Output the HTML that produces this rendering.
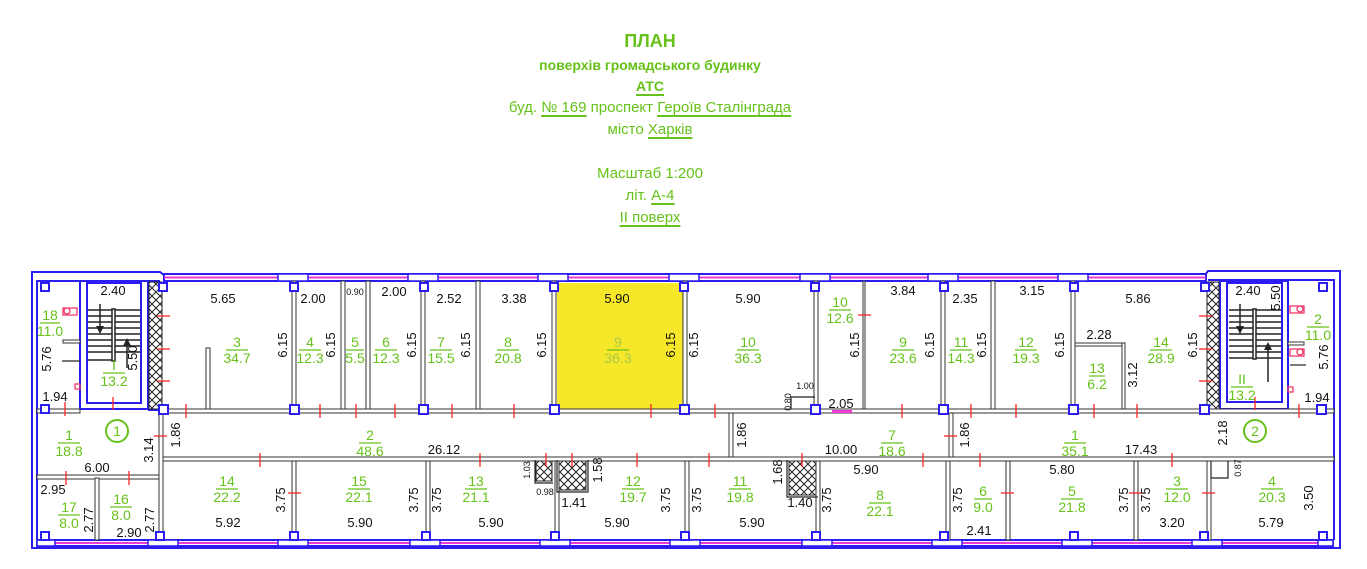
<!DOCTYPE html>
<html><head><meta charset="utf-8"><style>
body{margin:0;background:#fff;width:1367px;height:569px;overflow:hidden;position:relative;font-family:"Liberation Sans",sans-serif}
.h{position:absolute;left:0;width:1300px;text-align:center;color:#66c21a;white-space:nowrap}
.u{text-decoration:underline;text-decoration-thickness:2px;text-underline-offset:3px}
svg{position:absolute;left:0;top:0}
svg text{font-family:"Liberation Sans",sans-serif}
.d{font-size:13px;fill:#111;text-anchor:middle}
.s{font-size:9px;fill:#111;text-anchor:middle}
.g{font-size:14px;fill:#66c21a;text-anchor:middle}
</style></head><body>
<div class="h" style="top:31px;font-size:18px;font-weight:bold">ПЛАН</div>
<div class="h" style="top:57px;font-size:14px;font-weight:bold">поверхів громадського будинку</div>
<div class="h" style="top:78px;font-size:14px;font-weight:bold"><span class="u">АТС</span></div>
<div class="h" style="top:99px;font-size:15px">буд. <span class="u">№ 169</span> проспект <span class="u">Героїв Сталінграда</span></div>
<div class="h" style="top:121px;font-size:15px">місто <span class="u">Харків</span></div>
<div class="h" style="top:165px;font-size:15px">Масштаб 1:200</div>
<div class="h" style="top:187px;font-size:15px">літ. <span class="u">А-4</span></div>
<div class="h" style="top:209px;font-size:15px"><span class="u">II поверх</span></div>

<svg width="1367" height="569" viewBox="0 0 1367 569">
<defs>
<pattern id="hx" width="8" height="8" patternUnits="userSpaceOnUse">
<path d="M0 0L8 8M8 0L0 8" stroke="#222" stroke-width="1"/>
</pattern>
</defs>
<rect x="557" y="283" width="126" height="127" fill="#f6e829"/>
<path d="M32 272 L160 272 L164 275 L1205 275 L1208 271 L1340 271 L1340 548 L32 548 Z" fill="none" stroke="#2b1cf0" stroke-width="2"/>
<rect x="164" y="274" width="1042" height="7" fill="#fff" stroke="#2b1cf0" stroke-width="2"/>
<line x1="164" y1="277.5" x2="1206" y2="277.5" stroke="#f03ad8" stroke-width="2"/>
<rect x="37" y="540" width="1296" height="6" fill="#fff" stroke="#2b1cf0" stroke-width="2"/>
<line x1="37" y1="543" x2="1333" y2="543" stroke="#f03ad8" stroke-width="2"/>
<g fill="#fff" stroke="#2b1cf0" stroke-width="1.5">
<rect x="278" y="274" width="30" height="7"/><rect x="408" y="274" width="30" height="7"/><rect x="538" y="274" width="30" height="7"/><rect x="669" y="274" width="30" height="7"/><rect x="800" y="274" width="30" height="7"/><rect x="928" y="274" width="30" height="7"/><rect x="1058" y="274" width="30" height="7"/>
<rect x="37" y="540" width="18" height="6"/><rect x="148" y="540" width="30" height="6"/><rect x="278" y="540" width="30" height="6"/><rect x="410" y="540" width="30" height="6"/><rect x="540" y="540" width="30" height="6"/><rect x="670" y="540" width="30" height="6"/><rect x="802" y="540" width="30" height="6"/><rect x="932" y="540" width="30" height="6"/><rect x="1062" y="540" width="30" height="6"/><rect x="1192" y="540" width="30" height="6"/><rect x="1318" y="540" width="15" height="6"/>
</g>
<g fill="none" stroke="#2b1cf0" stroke-width="2">
<path d="M37 540 L37 281 L160 281"/>
<path d="M1208 280 L1334 280 L1334 540"/>
<rect x="80" y="281" width="68" height="128"/>
<rect x="87" y="283" width="54" height="120"/>
<rect x="1220" y="281" width="68" height="128"/>
<rect x="1227" y="283" width="55" height="119"/>
<line x1="148" y1="410" x2="163" y2="410"/>
</g>
<g stroke="#222" stroke-width="1.5">
<line x1="88" y1="310" x2="140" y2="310"/><line x1="88" y1="316" x2="140" y2="316"/><line x1="88" y1="322" x2="140" y2="322"/><line x1="88" y1="328" x2="140" y2="328"/><line x1="88" y1="334" x2="140" y2="334"/><line x1="88" y1="340" x2="140" y2="340"/><line x1="88" y1="346" x2="140" y2="346"/><line x1="88" y1="352" x2="140" y2="352"/><line x1="88" y1="360" x2="112" y2="360"/>
<rect x="112" y="309" width="3" height="52" fill="#fff"/>
<line x1="100" y1="304" x2="100" y2="328"/><line x1="127" y1="344" x2="127" y2="368"/>
<line x1="1229" y1="310" x2="1281" y2="310"/><line x1="1229" y1="316" x2="1281" y2="316"/><line x1="1229" y1="322" x2="1281" y2="322"/><line x1="1229" y1="328" x2="1281" y2="328"/><line x1="1229" y1="334" x2="1281" y2="334"/><line x1="1229" y1="340" x2="1281" y2="340"/><line x1="1229" y1="346" x2="1281" y2="346"/><line x1="1229" y1="352" x2="1281" y2="352"/><line x1="1229" y1="358" x2="1281" y2="358"/>
<rect x="1253" y="309" width="3" height="50" fill="#fff"/>
<line x1="1240" y1="304" x2="1240" y2="328"/><line x1="1268" y1="348" x2="1268" y2="382"/>
</g>
<g fill="#222"><path d="M96 326 L100 334 L104 326Z"/><path d="M123 346 L127 338 L131 346Z"/><path d="M1236 326 L1240 334 L1244 326Z"/><path d="M1264 350 L1268 342 L1272 350Z"/></g>
<g fill="url(#hx)" stroke="#222" stroke-width="1">
<rect x="149" y="282" width="13" height="127"/>
<rect x="1207" y="282" width="12" height="127"/>
<rect x="536" y="459" width="16" height="22"/>
<rect x="559" y="459" width="27" height="31"/>
<rect x="789" y="459" width="27" height="36"/>
</g>
<g fill="#fff" stroke="#333" stroke-width="1">
<rect x="160" y="409" width="1174" height="4"/>
<rect x="37" y="409" width="43" height="4"/>
<rect x="160" y="457" width="1174" height="4"/>
<rect x="37" y="475" width="123" height="4"/>
<rect x="159" y="409" width="4" height="131"/>
<rect x="95" y="478" width="4" height="62"/>
<rect x="292" y="281" width="4" height="128"/>
<rect x="341" y="281" width="4" height="128"/>
<rect x="366" y="281" width="4" height="128"/>
<rect x="421" y="281" width="4" height="128"/>
<rect x="476" y="281" width="4" height="128"/>
<rect x="552" y="281" width="4" height="128"/>
<rect x="683" y="281" width="4" height="128"/>
<rect x="814" y="281" width="4" height="128"/>
<rect x="863" y="281" width="2" height="128"/>
<rect x="941" y="281" width="4" height="128"/>
<rect x="991" y="281" width="4" height="128"/>
<rect x="1071" y="281" width="4" height="128"/>
<rect x="206" y="348" width="4" height="61"/>
<rect x="729" y="413" width="4" height="44"/>
<rect x="949" y="413" width="4" height="44"/>
<rect x="292" y="461" width="4" height="79"/>
<rect x="426" y="461" width="4" height="79"/>
<rect x="555" y="461" width="4" height="79"/>
<rect x="685" y="461" width="4" height="79"/>
<rect x="816" y="461" width="4" height="79"/>
<rect x="946" y="461" width="4" height="79"/>
<rect x="1006" y="461" width="4" height="79"/>
<rect x="1134" y="461" width="4" height="79"/>
<rect x="1207" y="461" width="4" height="79"/>
<rect x="1075" y="343" width="50" height="3"/>
<rect x="1122" y="343" width="3" height="66"/>
<rect x="63" y="340" width="17" height="3"/>
<rect x="1288" y="342" width="16" height="3"/>
</g>
<g fill="none" stroke="#222" stroke-width="1.2">
<path d="M791 409 V397 H815"/><path d="M1211 461 V478 H1228 V461"/><path d="M535 460 V483 H553"/><path d="M557 460 V492 H588 V460"/><path d="M787 460 V497 H818"/>
<line x1="62" y1="361" x2="80" y2="361"/><line x1="1290" y1="365" x2="1306" y2="365"/>
</g>
<rect x="832" y="410" width="20" height="3" fill="#f03ad8"/>
<g fill="#fff" stroke="#2b1cf0" stroke-width="2">
<rect x="41" y="283" width="8" height="8"/><rect x="41" y="405" width="8" height="8"/><rect x="41" y="532" width="8" height="8"/>
<rect x="159" y="283" width="8" height="8"/><rect x="159" y="405" width="9" height="9"/><rect x="156" y="532" width="8" height="8"/>
<rect x="290" y="283" width="8" height="8"/><rect x="290" y="405" width="9" height="9"/><rect x="290" y="532" width="8" height="8"/>
<rect x="420" y="283" width="8" height="8"/><rect x="419" y="405" width="9" height="9"/><rect x="422" y="532" width="8" height="8"/>
<rect x="550" y="283" width="8" height="8"/><rect x="550" y="405" width="9" height="9"/><rect x="551" y="532" width="8" height="8"/>
<rect x="680" y="283" width="8" height="8"/><rect x="680" y="405" width="9" height="9"/><rect x="681" y="532" width="8" height="8"/>
<rect x="811" y="283" width="8" height="8"/><rect x="811" y="405" width="9" height="9"/><rect x="812" y="532" width="8" height="8"/>
<rect x="940" y="283" width="8" height="8"/><rect x="939" y="405" width="9" height="9"/><rect x="940" y="532" width="8" height="8"/>
<rect x="1070" y="283" width="8" height="8"/><rect x="1069" y="405" width="9" height="9"/><rect x="1070" y="532" width="8" height="8"/>
<rect x="1201" y="283" width="8" height="8"/><rect x="1200" y="405" width="9" height="9"/><rect x="1200" y="532" width="8" height="8"/>
<rect x="1319" y="283" width="8" height="8"/><rect x="1317" y="405" width="9" height="9"/><rect x="1319" y="532" width="8" height="8"/>
</g>
<g stroke="#f22" stroke-width="1.3">
<line x1="65" y1="402" x2="65" y2="416"/><line x1="113" y1="397" x2="113" y2="410"/>
<line x1="157" y1="316" x2="170" y2="316"/><line x1="157" y1="349" x2="170" y2="349"/><line x1="157" y1="381" x2="170" y2="381"/>
<line x1="186" y1="404" x2="186" y2="418"/><line x1="320" y1="404" x2="320" y2="418"/><line x1="356" y1="404" x2="356" y2="418"/><line x1="395" y1="404" x2="395" y2="418"/><line x1="452" y1="404" x2="452" y2="418"/><line x1="514" y1="404" x2="514" y2="418"/><line x1="651" y1="404" x2="651" y2="418"/><line x1="715" y1="404" x2="715" y2="418"/><line x1="902" y1="404" x2="902" y2="418"/><line x1="971" y1="404" x2="971" y2="418"/><line x1="1016" y1="404" x2="1016" y2="418"/><line x1="1094" y1="404" x2="1094" y2="418"/><line x1="1137" y1="404" x2="1137" y2="418"/><line x1="1299" y1="404" x2="1299" y2="418"/><line x1="1255" y1="397" x2="1255" y2="410"/>
<line x1="1199" y1="316" x2="1212" y2="316"/><line x1="1199" y1="349" x2="1212" y2="349"/><line x1="1199" y1="381" x2="1212" y2="381"/>
<line x1="858" y1="315" x2="871" y2="315"/>
<line x1="154" y1="436" x2="167" y2="436"/><line x1="944" y1="436" x2="957" y2="436"/>
<line x1="66" y1="471" x2="66" y2="485"/><line x1="129" y1="471" x2="129" y2="485"/>
<line x1="260" y1="453" x2="260" y2="467"/><line x1="480" y1="453" x2="480" y2="467"/><line x1="546" y1="453" x2="546" y2="467"/><line x1="572" y1="453" x2="572" y2="467"/><line x1="637" y1="453" x2="637" y2="467"/><line x1="709" y1="453" x2="709" y2="467"/><line x1="802" y1="453" x2="802" y2="467"/><line x1="923" y1="453" x2="923" y2="467"/><line x1="980" y1="453" x2="980" y2="467"/><line x1="1172" y1="453" x2="1172" y2="467"/>
<line x1="288" y1="493" x2="301" y2="493"/><line x1="1001" y1="493" x2="1014" y2="493"/><line x1="1129" y1="493" x2="1142" y2="493"/><line x1="1202" y1="493" x2="1215" y2="493"/>
</g>
<g fill="none" stroke="#f03a6a" stroke-width="1.3">
<rect x="63" y="308" width="14" height="7"/><circle cx="67" cy="311" r="3"/><rect x="75" y="384" width="5" height="5"/>
<rect x="1290" y="306" width="14" height="7"/><circle cx="1300" cy="309" r="3"/><rect x="1290" y="349" width="14" height="7"/><circle cx="1300" cy="352" r="3"/><rect x="1288" y="387" width="5" height="5"/>
</g>
<circle cx="117" cy="431" r="11" fill="none" stroke="#66c21a" stroke-width="2"/>
<text x="117" y="436" class="g" font-size="15">1</text>
<circle cx="1255" cy="431" r="11" fill="none" stroke="#66c21a" stroke-width="2"/>
<text x="1255" y="436" class="g" font-size="15">2</text>
<g class="g" stroke="#66c21a" stroke-width="1.2">
<line x1="40" y1="323" x2="60" y2="323"/><line x1="103" y1="373" x2="125" y2="373"/><line x1="226" y1="350" x2="248" y2="350"/><line x1="299" y1="350" x2="321" y2="350"/><line x1="346" y1="350" x2="364" y2="350"/><line x1="375" y1="350" x2="397" y2="350"/><line x1="430" y1="350" x2="452" y2="350"/><line x1="497" y1="350" x2="519" y2="350"/><line x1="607" y1="350" x2="629" y2="350"/><line x1="737" y1="350" x2="759" y2="350"/><line x1="829" y1="310" x2="851" y2="310"/><line x1="892" y1="350" x2="914" y2="350"/><line x1="950" y1="350" x2="972" y2="350"/><line x1="1015" y1="350" x2="1037" y2="350"/><line x1="1089" y1="376" x2="1105" y2="376"/><line x1="1150" y1="350" x2="1172" y2="350"/><line x1="1231" y1="387" x2="1253" y2="387"/><line x1="1307" y1="327" x2="1329" y2="327"/>
<line x1="58" y1="443" x2="80" y2="443"/><line x1="359" y1="443" x2="381" y2="443"/><line x1="881" y1="443" x2="903" y2="443"/><line x1="1064" y1="443" x2="1086" y2="443"/>
<line x1="58" y1="515" x2="80" y2="515"/><line x1="110" y1="507" x2="132" y2="507"/><line x1="216" y1="489" x2="238" y2="489"/><line x1="348" y1="489" x2="370" y2="489"/><line x1="465" y1="489" x2="487" y2="489"/><line x1="622" y1="489" x2="644" y2="489"/><line x1="729" y1="489" x2="751" y2="489"/><line x1="869" y1="503" x2="891" y2="503"/><line x1="974" y1="499" x2="992" y2="499"/><line x1="1061" y1="499" x2="1083" y2="499"/><line x1="1166" y1="489" x2="1188" y2="489"/><line x1="1261" y1="489" x2="1283" y2="489"/>
</g>
<g class="g">
<text x="50" y="320">18</text><text x="50" y="336">11.0</text>
<text x="114" y="370">I</text><text x="114" y="386">13.2</text>
<text x="237" y="347">3</text><text x="237" y="363">34.7</text>
<text x="310" y="347">4</text><text x="310" y="363">12.3</text>
<text x="355" y="347">5</text><text x="355" y="363">5.5</text>
<text x="386" y="347">6</text><text x="386" y="363">12.3</text>
<text x="441" y="347">7</text><text x="441" y="363">15.5</text>
<text x="508" y="347">8</text><text x="508" y="363">20.8</text>
<text x="618" y="347" style="fill:#a8c84a">9</text><text x="618" y="363" style="fill:#a8c84a">36.3</text>
<text x="748" y="347">10</text><text x="748" y="363">36.3</text>
<text x="840" y="307">10</text><text x="840" y="323">12.6</text>
<text x="903" y="347">9</text><text x="903" y="363">23.6</text>
<text x="961" y="347">11</text><text x="961" y="363">14.3</text>
<text x="1026" y="347">12</text><text x="1026" y="363">19.3</text>
<text x="1097" y="373">13</text><text x="1097" y="389">6.2</text>
<text x="1242" y="384">II</text><text x="1242" y="400">13.2</text>
<text x="1161" y="347">14</text><text x="1161" y="363">28.9</text>
<text x="1318" y="324">2</text><text x="1318" y="340">11.0</text>
<text x="69" y="440">1</text><text x="69" y="456">18.8</text>
<text x="370" y="440">2</text><text x="370" y="456">48.6</text>
<text x="892" y="440">7</text><text x="892" y="456">18.6</text>
<text x="1075" y="440">1</text><text x="1075" y="456">35.1</text>
<text x="69" y="512">17</text><text x="69" y="528">8.0</text>
<text x="121" y="504">16</text><text x="121" y="520">8.0</text>
<text x="227" y="486">14</text><text x="227" y="502">22.2</text>
<text x="359" y="486">15</text><text x="359" y="502">22.1</text>
<text x="476" y="486">13</text><text x="476" y="502">21.1</text>
<text x="633" y="486">12</text><text x="633" y="502">19.7</text>
<text x="740" y="486">11</text><text x="740" y="502">19.8</text>
<text x="880" y="500">8</text><text x="880" y="516">22.1</text>
<text x="983" y="496">6</text><text x="983" y="512">9.0</text>
<text x="1072" y="496">5</text><text x="1072" y="512">21.8</text>
<text x="1177" y="486">3</text><text x="1177" y="502">12.0</text>
<text x="1272" y="486">4</text><text x="1272" y="502">20.3</text>
</g>
<g class="d">
<text x="113" y="295">2.40</text><text x="223" y="303">5.65</text><text x="313" y="303">2.00</text><text x="394" y="296">2.00</text><text x="449" y="303">2.52</text><text x="514" y="303">3.38</text><text x="617" y="303">5.90</text><text x="748" y="303">5.90</text><text x="903" y="295">3.84</text><text x="965" y="303">2.35</text><text x="1032" y="295">3.15</text><text x="1138" y="303">5.86</text><text x="1248" y="295">2.40</text><text x="1099" y="339">2.28</text><text x="841" y="408">2.05</text><text x="55" y="401">1.94</text><text x="1317" y="402">1.94</text>
<text x="444" y="454">26.12</text><text x="841" y="454">10.00</text><text x="1141" y="454">17.43</text><text x="97" y="472">6.00</text><text x="866" y="474">5.90</text><text x="1062" y="474">5.80</text><text x="53" y="494">2.95</text><text x="129" y="537">2.90</text><text x="228" y="527">5.92</text><text x="360" y="527">5.90</text><text x="491" y="527">5.90</text><text x="574" y="507">1.41</text><text x="617" y="527">5.90</text><text x="752" y="527">5.90</text><text x="800" y="507">1.40</text><text x="979" y="535">2.41</text><text x="1172" y="527">3.20</text><text x="1271" y="527">5.79</text>
</g>
<g class="s"><text x="355" y="295">0.90</text><text x="805" y="389">1.00</text><text x="545" y="495">0.98</text></g>
<g class="d">
<text transform="translate(51,359) rotate(-90)">5.76</text>
<text transform="translate(137,358) rotate(-90)">5.50</text>
<text transform="translate(287,345) rotate(-90)">6.15</text>
<text transform="translate(335,345) rotate(-90)">6.15</text>
<text transform="translate(416,345) rotate(-90)">6.15</text>
<text transform="translate(470,345) rotate(-90)">6.15</text>
<text transform="translate(546,345) rotate(-90)">6.15</text>
<text transform="translate(675,345) rotate(-90)">6.15</text>
<text transform="translate(698,345) rotate(-90)">6.15</text>
<text transform="translate(859,345) rotate(-90)">6.15</text>
<text transform="translate(934,345) rotate(-90)">6.15</text>
<text transform="translate(986,345) rotate(-90)">6.15</text>
<text transform="translate(1064,345) rotate(-90)">6.15</text>
<text transform="translate(1137,375) rotate(-90)">3.12</text>
<text transform="translate(1197,345) rotate(-90)">6.15</text>
<text transform="translate(1280,298) rotate(-90)">5.50</text>
<text transform="translate(1328,357) rotate(-90)">5.76</text>
<text transform="translate(180,435) rotate(-90)">1.86</text>
<text transform="translate(153,450) rotate(-90)">3.14</text>
<text transform="translate(746,435) rotate(-90)">1.86</text>
<text transform="translate(969,435) rotate(-90)">1.86</text>
<text transform="translate(1227,433) rotate(-90)">2.18</text>
<text transform="translate(602,470) rotate(-90)">1.58</text>
<text transform="translate(782,472) rotate(-90)">1.68</text>
<text transform="translate(93,520) rotate(-90)">2.77</text>
<text transform="translate(154,520) rotate(-90)">2.77</text>
<text transform="translate(285,500) rotate(-90)">3.75</text>
<text transform="translate(418,500) rotate(-90)">3.75</text>
<text transform="translate(441,500) rotate(-90)">3.75</text>
<text transform="translate(670,500) rotate(-90)">3.75</text>
<text transform="translate(701,500) rotate(-90)">3.75</text>
<text transform="translate(831,500) rotate(-90)">3.75</text>
<text transform="translate(962,500) rotate(-90)">3.75</text>
<text transform="translate(1128,500) rotate(-90)">3.75</text>
<text transform="translate(1150,500) rotate(-90)">3.75</text>
<text transform="translate(1313,498) rotate(-90)">3.50</text>
</g>
<g class="s">
<text transform="translate(791,402) rotate(-90)">0.80</text>
<text transform="translate(530,470) rotate(-90)">1.03</text>
<text transform="translate(1241,468) rotate(-90)">0.87</text>
</g>
</svg>
</body></html>
